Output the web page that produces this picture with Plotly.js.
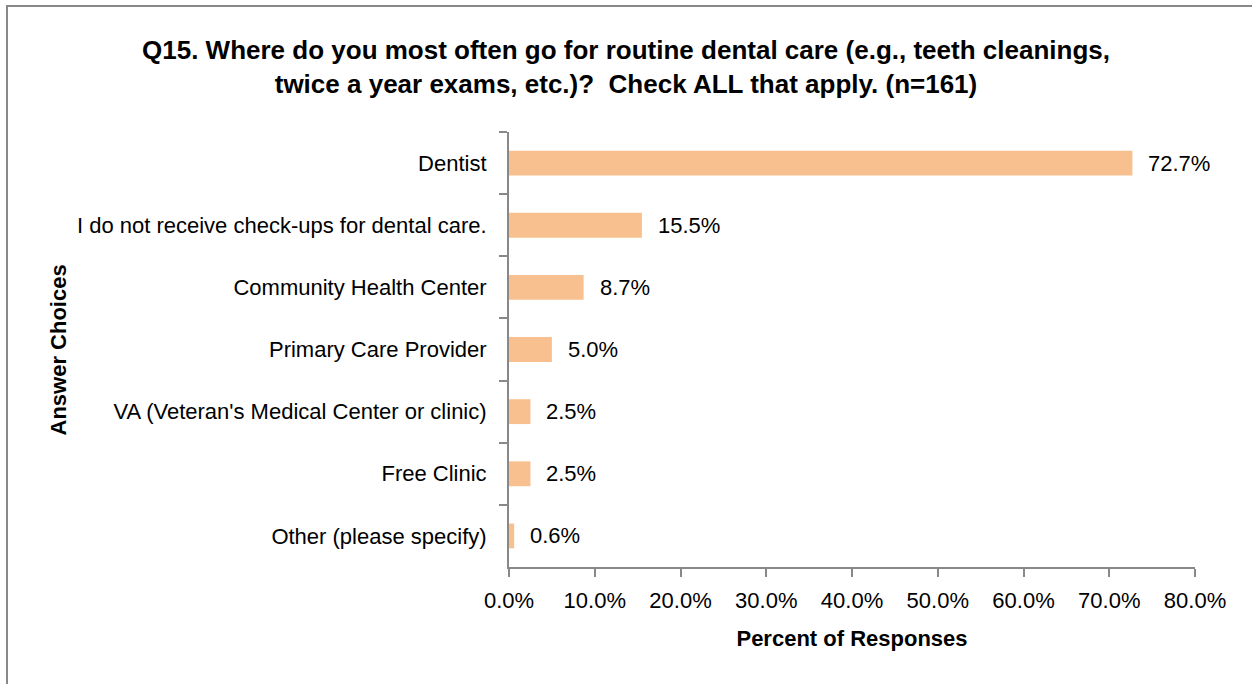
<!DOCTYPE html>
<html><head><meta charset="utf-8">
<script src="https://cdn.plot.ly/plotly-3.0.1.min.js"></script>
<style>html,body{margin:0;padding:0;background:#fff;overflow:hidden;}#wrap{position:relative;width:1252px;height:684px;}#chart{width:1252px;height:684px;}
#frame{position:absolute;left:6px;top:5px;width:1400px;height:900px;border-left:2px solid #888;border-top:2px solid #888;pointer-events:none;z-index:10;}</style>
</head><body><div id="wrap"><div id="chart"></div><div id="frame"></div></div>
<script>
const categories = ["Dentist","I do not receive check-ups for dental care.","Community Health Center","Primary Care Provider","VA (Veteran's Medical Center or clinic)","Free Clinic","Other (please specify)"];
const values = [72.7, 15.5, 8.7, 5.0, 2.5, 2.5, 0.6];
const xTickVals = [0,10,20,30,40,50,60,70,80];
const xTickText = ["0.0%","10.0%","20.0%","30.0%","40.0%","50.0%","60.0%","70.0%","80.0%"];

const FONT = "'Liberation Sans Narrow', 'Arial Narrow', 'Liberation Sans', Arial, sans-serif";
const annotations = values.map((v,i)=>({
  x: v, y: categories[i], xref:'x', yref:'y', text: v.toFixed(1)+'%',
  showarrow:false, xanchor:'left', xshift:14, font:{family:FONT,size:22,color:'#000'}
}));
annotations.push({text:'<b>Answer Choices</b>', xref:'paper', yref:'paper', x:-0.656, xanchor:'center', y:0.5, yanchor:'middle', textangle:-90, showarrow:false, font:{family:FONT,size:22,color:'#000'}});

const trace = {type:'bar', orientation:'h', y:categories, x:values, width:0.4,
  marker:{color:'#F8C08F'}, hoverinfo:'none'};
const layout = {
  width:1252, height:684, margin:{l:509,r:57,t:132,b:117},
  paper_bgcolor:'#fff', plot_bgcolor:'#fff', showlegend:false,
  title:{text:'<b>Q15. Where do you most often go for routine dental care (e.g., teeth cleanings,<br>twice a year exams, etc.)?  Check ALL that apply. (n=161)</b>',
    xref:'container', x:0.5, xanchor:'center', yref:'container', y:0.914, yanchor:'top',
    font:{family:FONT,size:26,color:'#000'}, pad:{t:0}},
  xaxis:{range:[0,80], tickvals:xTickVals, ticktext:xTickText, showgrid:false, zeroline:false,
    showline:true, linecolor:'#888', linewidth:2, ticks:'outside', ticklen:8, tickwidth:2, tickcolor:'#888',
    tickfont:{family:FONT,size:22,color:'#000'}, ticklabelstandoff:5,
    title:{text:'<b>Percent of Responses</b>', standoff:18, font:{family:FONT,size:22,color:'#000'}}},
  yaxis:{type:'category', autorange:'reversed', tickson:'boundaries', showgrid:false, zeroline:false,
    showline:true, linecolor:'#888', linewidth:2, ticks:'outside', ticklen:8, tickwidth:2, tickcolor:'#888',
    tickfont:{family:FONT,size:22,color:'#000'}, ticklabelstandoff:16},
  annotations: annotations
};
Plotly.newPlot('chart',[trace],layout,{staticPlot:true});
</script></body></html>
